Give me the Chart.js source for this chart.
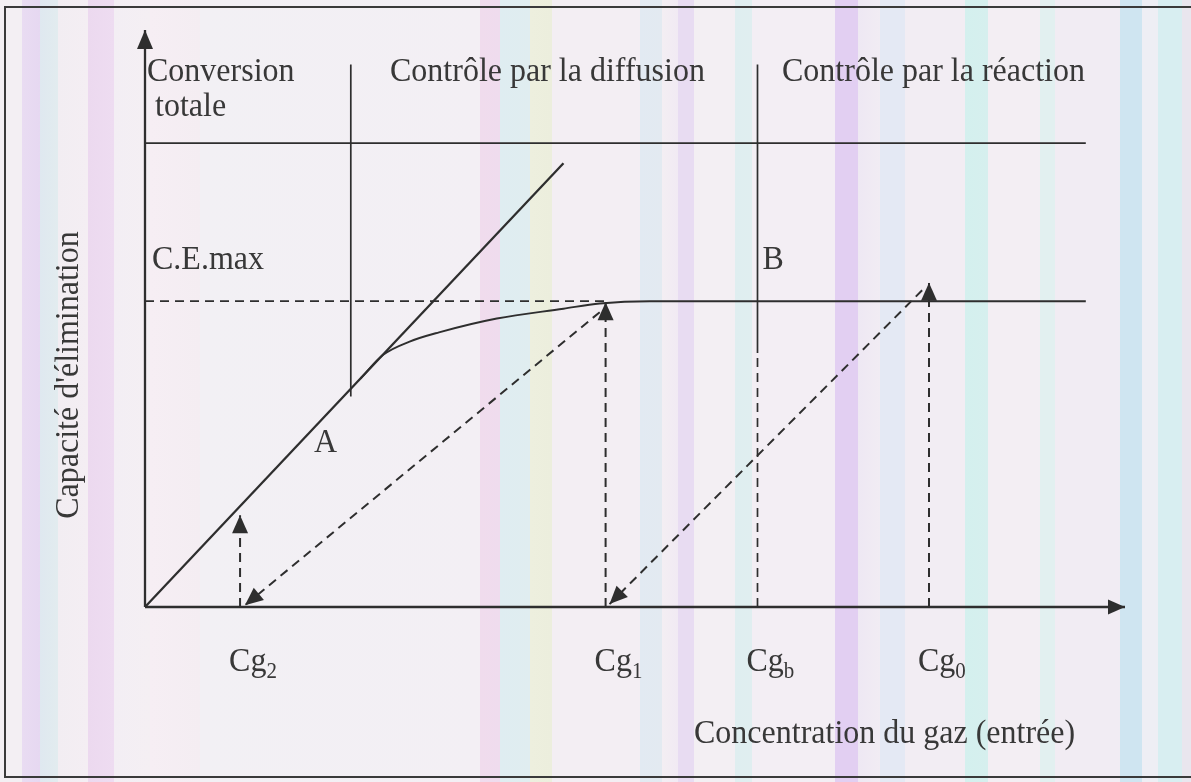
<!DOCTYPE html>
<html>
<head>
<meta charset="utf-8">
<script src="https://cdn.jsdelivr.net/npm/chart.js@4.4.0/dist/chart.umd.min.js"></script>
<style>
  html, body { margin: 0; padding: 0; }
  body {
    width: 1191px; height: 782px; overflow: hidden; position: relative;
    background: linear-gradient(to right,
      #f3eff3 0px, #f3eff3 22px,
      #e9dcf2 22px, #e6d8f1 40px,
      #dfe8f0 40px, #e2ecef 58px,
      #f2edf2 58px, #f4eef3 88px,
      #ecd9ef 88px, #eedcf1 114px,
      #f3eef4 114px, #f4eff3 150px,
      #f6eef4 150px, #f4edf2 200px,
      #f2f0f4 200px, #f3eff4 480px,
      #f0dced 480px, #efdcee 500px,
      #dfedf1 500px, #e0edf0 530px,
      #edefde 530px, #eceedd 552px,
      #f3eef3 552px, #f3eef3 640px,
      #e2eaf2 640px, #e3eaf1 662px,
      #f3eef3 662px, #f1eaf3 678px,
      #e8dcf2 678px, #e8dcf2 694px,
      #f3eff3 694px, #f3eff3 735px,
      #dfeef0 735px, #e0eef0 752px,
      #f3eef4 752px, #f3eef4 835px,
      #e2cff2 835px, #e2cff2 858px,
      #eee8f3 858px, #f1ecf3 880px,
      #e4e9f4 880px, #e4e9f4 905px,
      #f2edf3 905px, #f2edf3 965px,
      #d4f0ee 965px, #d6efee 988px,
      #f3eef3 988px, #f3eef3 1040px,
      #e2f0f0 1040px, #e2f0f0 1055px,
      #f1ecf3 1055px, #f1ecf3 1120px,
      #cfe5f1 1120px, #cfe5f1 1142px,
      #eeeef4 1142px, #eeeef4 1158px,
      #d8eef1 1158px, #d8eef1 1182px,
      #e9e6ee 1182px, #e9e6ee 1191px);
  }
  #frame {
    position: absolute; left: 4px; top: 6px; width: 1200px; height: 772px;
    border: 2px solid #3a3a3a; box-sizing: border-box;
  }
  #wrap { position: absolute; left: 0; top: 0; width: 1191px; height: 782px; }
  canvas { filter: blur(0.35px); }
</style>
</head>
<body>
<div id="frame"></div>
<div id="wrap"><canvas id="chart"></canvas></div>
<script>
// Concentration marks on the horizontal axis
const tickNames  = ['Cg', 'Cg', 'Cg', 'Cg'];
const tickSubs   = ['2', '1', 'b', '0'];
const tickValues = [0.97, 4.7, 6.25, 8.0];

// Maximum elimination capacity (plateau level)
const ceMax = 5.3;

// Line A: total conversion (capacity = load)
const lineAX = [0, 4.27];
const lineAY = [0, 7.69];

// Diffusion-controlled curve bending onto the plateau
const curveX = [2.2, 2.43, 2.7, 3.0, 3.59, 4.27, 4.64, 5.15, 9.6];
const curveY = [3.96, 4.37, 4.6, 4.76, 5.0, 5.17, 5.26, 5.3, 5.3];

// Region boundaries
const boundaryX      = [2.1, 6.25];
const boundaryBottom = [3.65, 4.4];
const boundaryTop    = 9.4;
const headerLineY    = 8.04;
const lineRightEnd   = 9.6;

// Vertical dashed arrows rising from Cg2, Cg1, Cg0
const riseX   = [0.97, 4.7, 8.0];
const riseTop = [1.59, 5.28, 5.62];

// Dashed diagonals going back down to the axis
const diagFromX = [4.64, 7.93];
const diagFromY = [5.11, 5.49];
const diagToX   = [1.02, 4.74];
const diagToY   = [0.03, 0.05];

const INK = '#2e2e2e';
const DASH = [9, 6];

function pts(xs, ys) { return xs.map((x, i) => ({ x, y: ys[i] })); }
function seg(x0, y0, x1, y1) { return [{ x: x0, y: y0 }, { x: x1, y: y1 }]; }

const datasets = [];
function add(data, opts) {
  datasets.push(Object.assign({
    data, showLine: true, borderColor: INK, borderWidth: 1.7,
    pointRadius: 0, fill: false, clip: false, tension: 0
  }, opts || {}));
}

// axes
add(seg(0, 0, 10, 0), { borderWidth: 2.3, arrow: { len: 17, half: 7.5 } });
add(seg(0, 0, 0, 10), { borderWidth: 2.3, arrow: { len: 19, half: 8 } });
// header separator and region boundaries
add(seg(0, headerLineY, lineRightEnd, headerLineY));
add(seg(boundaryX[0], boundaryBottom[0], boundaryX[0], boundaryTop));
add(seg(boundaryX[1], boundaryBottom[1], boundaryX[1], boundaryTop));
add(seg(boundaryX[1], 0, boundaryX[1], boundaryBottom[1]), { borderDash: DASH, borderWidth: 1.7 });
// line A
add(pts(lineAX, lineAY), { borderWidth: 2.3 });
// saturation curve + plateau
add(pts(curveX, curveY), { cubicInterpolationMode: 'monotone', borderWidth: 1.9 });
// C.E.max dashed level
add(seg(0, ceMax, riseX[1], ceMax), { borderDash: DASH, borderWidth: 1.8 });
// rising arrows
riseX.forEach((x, i) => add(seg(x, 0, x, riseTop[i]), { borderDash: DASH, borderWidth: 2, arrow: { len: 18, half: 8 } }));
// diagonals
diagFromX.forEach((x, i) => add(seg(x, diagFromY[i], diagToX[i], diagToY[i]), { borderDash: DASH, borderWidth: 2, arrow: { len: 18, half: 8 } }));

// Filled triangular arrowheads at the last point of flagged datasets
const arrowHeads = {
  id: 'arrowHeads',
  afterDatasetsDraw(chart) {
    const ctx = chart.ctx;
    chart.data.datasets.forEach((ds, i) => {
      if (!ds.arrow) return;
      const d = chart.getDatasetMeta(i).data;
      const a = d[d.length - 2], b = d[d.length - 1];
      const ang = Math.atan2(b.y - a.y, b.x - a.x);
      const { len, half } = ds.arrow;
      ctx.save();
      ctx.translate(b.x, b.y);
      ctx.rotate(ang);
      ctx.beginPath();
      ctx.moveTo(0, 0);
      ctx.lineTo(-len, -half);
      ctx.lineTo(-len, half);
      ctx.closePath();
      ctx.fillStyle = INK;
      ctx.fill();
      ctx.restore();
    });
  }
};

// Texts: region titles, annotations, tick names and axis titles
const texts = {
  id: 'texts',
  afterDraw(chart) {
    const ctx = chart.ctx;
    const xs = chart.scales.x;
    const F = '"Liberation Serif", "Times New Roman", serif';
    const STRETCH = 1.08;
    function put(str, x, y, size) {
      ctx.save();
      ctx.translate(x, y);
      ctx.scale(1, STRETCH);
      ctx.font = size + 'px ' + F;
      ctx.fillText(str, 0, 0);
      ctx.restore();
    }
    ctx.save();
    ctx.fillStyle = '#383838';
    ctx.textBaseline = 'alphabetic';
    ctx.textAlign = 'left';
    put('Conversion', 147, 81, 32);
    put('totale', 155, 116, 32);
    put('Contrôle par la diffusion', 390, 81, 32);
    put('Contrôle par la réaction', 782, 81, 32);
    put('C.E.max', 152, 269, 32);
    put('B', xs.getPixelForValue(boundaryX[1]) + 5, 269, 32);
    put('A', 314, 452, 32);
    put('Concentration du gaz (entrée)', 694, 743, 32);

    ctx.font = '32px ' + F;
    tickValues.forEach((v, i) => {
      const px = xs.getPixelForValue(v) - 11;
      put(tickNames[i], px, 671, 32);
      ctx.font = '32px ' + F;
      const w = ctx.measureText(tickNames[i]).width;
      put(tickSubs[i], px + w, 678, 21);
    });

    ctx.translate(69, 375);
    ctx.rotate(-Math.PI / 2);
    ctx.scale(1, STRETCH);
    ctx.font = '32px ' + F;
    ctx.textAlign = 'center';
    ctx.textBaseline = 'middle';
    ctx.fillText("Capacité d'élimination", 0, 0);
    ctx.restore();
  }
};

new Chart(document.getElementById('chart'), {
  type: 'scatter',
  data: { datasets },
  options: {
    responsive: true,
    maintainAspectRatio: false,
    animation: false,
    layout: { padding: { left: 145, right: 66, top: 30, bottom: 175 } },
    scales: {
      x: { type: 'linear', min: 0, max: 10, display: false },
      y: { type: 'linear', min: 0, max: 10, display: false }
    },
    plugins: { legend: { display: false }, tooltip: { enabled: false } }
  },
  plugins: [arrowHeads, texts]
});
</script>
</body>
</html>
